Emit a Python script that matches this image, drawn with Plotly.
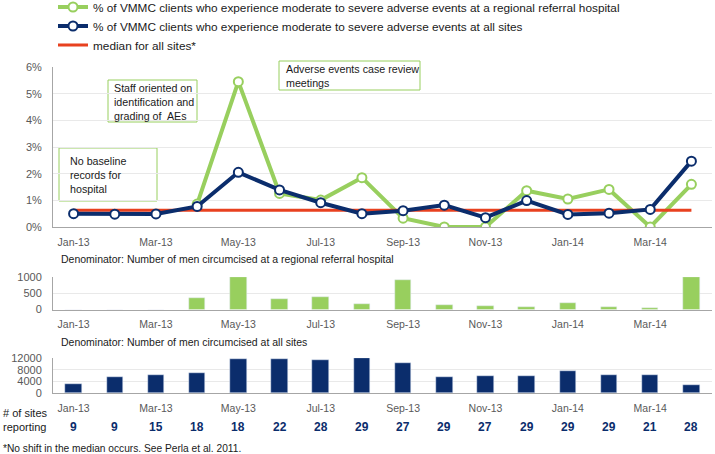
import plotly.graph_objects as go

months = ["Jan-13", "Feb-13", "Mar-13", "Apr-13", "May-13", "Jun-13", "Jul-13", "Aug-13",
          "Sep-13", "Oct-13", "Nov-13", "Dec-13", "Jan-14", "Feb-14", "Mar-14", "Apr-14"]
pct_hospital = [None, None, None, 0.86, 5.45, 1.26, 1.01, 1.85, 0.33, 0.0, 0.0, 1.36, 1.05, 1.41, 0.0, 1.6]
pct_all_sites = [0.50, 0.48, 0.49, 0.77, 2.05, 1.39, 0.91, 0.50, 0.61, 0.82, 0.35, 0.99, 0.47, 0.52, 0.66, 2.47]
median_all = 0.63
denom_hospital = [0, 0, 0, 340, 1000, 320, 380, 165, 915, 145, 110, 80, 185, 80, 50, 1000]
denom_all_sites = [3100, 5330, 6230, 6820, 11560, 11660, 11310, 12110, 10170, 5330, 5670, 5780, 7510, 6020, 6120, 2660]
sites_reporting = [9, 9, 15, 18, 18, 22, 28, 29, 27, 29, 27, 29, 29, 29, 21, 28]
tick_months = months[::2]
pct_ticks = [0, 1, 2, 3, 4, 5, 6]

GREEN = "#98CF5E"
NAVY = "#0B2D6C"
RED = "#E8411F"
GRAY = "#595959"
GRID = "#E9E9E9"
AXIS = "#A6A6A6"
TXT = "#1A1A1A"
FONT = "Liberation Sans, Arial, sans-serif"

W, H = 715, 454
ML, MR = 53, 3
PW = W - ML - MR


def px_x(p):
    return (p - ML) / PW


def px_y(p):
    return 1 - p / H


fig = go.Figure()

fig.add_trace(go.Scatter(
    x=months, y=pct_hospital, mode="lines+markers", xaxis="x", yaxis="y",
    name="% of VMMC clients who experience moderate to severe adverse events at a regional referral hospital",
    line=dict(color=GREEN, width=4), legendrank=1,
    marker=dict(size=9, color="white", line=dict(color=GREEN, width=2)),
    connectgaps=False))
fig.add_trace(go.Scatter(
    x=months, y=[median_all] * len(months), mode="lines", xaxis="x", yaxis="y",
    name="median for all sites*", line=dict(color=RED, width=3), legendrank=3))
fig.add_trace(go.Scatter(
    x=months, y=pct_all_sites, mode="lines+markers", xaxis="x", yaxis="y",
    name="% of VMMC clients who experience moderate to severe adverse events at all sites",
    line=dict(color=NAVY, width=4), legendrank=2,
    marker=dict(size=9, color="white", line=dict(color=NAVY, width=2))))

fig.add_trace(go.Bar(x=months, y=denom_hospital, xaxis="x2", yaxis="y2",
                     marker_color=GREEN, width=0.4, showlegend=False))
fig.add_trace(go.Bar(x=months, y=denom_all_sites, xaxis="x3", yaxis="y3",
                     marker_color=NAVY, width=0.4, showlegend=False))

xcommon = dict(type="category", categoryorder="array", categoryarray=months,
               range=[-0.5, 15.5], tickvals=tick_months, ticktext=tick_months,
               showgrid=False, showline=True, linecolor=AXIS, linewidth=1,
               ticks="", ticklabelstandoff=5, tickfont=dict(size=10.5, color=GRAY),
               zeroline=False)
ycommon = dict(showgrid=True, gridcolor=GRID, gridwidth=1, showline=True,
               linecolor=AXIS, linewidth=1, ticks="", zeroline=False,
               ticklabelstandoff=8, tickfont=dict(size=11, color=GRAY))

fig.update_layout(
    width=W, height=H,
    margin=dict(l=ML, r=MR, t=0, b=0, autoexpand=False),
    paper_bgcolor="white", plot_bgcolor="white",
    font=dict(family=FONT, size=11, color=TXT),
    showlegend=True,
    legend=dict(x=0, y=1 + 7.5 / H, xanchor="left", yanchor="top",
                font=dict(size=11.8, color=TXT), tracegroupgap=0,
                bgcolor="rgba(0,0,0,0)"),
    bargap=0,
    xaxis=dict(**xcommon, anchor="y"),
    xaxis2=dict(**xcommon, anchor="y2"),
    xaxis3=dict(**xcommon, anchor="y3"),
    yaxis=dict(**ycommon, domain=[px_y(227), px_y(67)], range=[0, 6],
               tickvals=pct_ticks, ticktext=["%d%%" % v for v in pct_ticks], anchor="x"),
    yaxis2=dict(**ycommon, domain=[px_y(309.5), px_y(277)], range=[0, 1000],
                tickvals=[0, 500, 1000], anchor="x2"),
    yaxis3=dict(**ycommon, domain=[px_y(393), px_y(358)], range=[0, 12000],
                tickvals=[0, 4000, 8000, 12000], tickformat="d", anchor="x3"),
)

# annotation boxes (frame + text)
boxes = [
    ((59, 148, 157, 201), "No baseline<br>records for<br>hospital", (68, 175)),
    ((108, 80, 197, 122), "Staff oriented on<br>identification and<br>grading of  AEs", (112, 101.5)),
    ((279, 61, 420, 90), "Adverse events case review<br>meetings", (284, 76)),
]
for (x0, y0, x1, y1), txt, (tx, ty) in boxes:
    fig.add_shape(type="rect", xref="paper", yref="paper",
                  x0=px_x(x0), x1=px_x(x1), y0=px_y(y1), y1=px_y(y0),
                  line=dict(color=GREEN, width=1), fillcolor="white", layer="between")
    fig.add_annotation(text=txt, xref="paper", yref="paper", x=px_x(tx), y=px_y(ty),
                       xanchor="left", yanchor="middle", align="left", showarrow=False,
                       font=dict(size=10.7, color=TXT))

fig.add_annotation(text="Denominator: Number of men circumcised at a regional referral hospital",
                   xref="paper", yref="paper", x=px_x(59), y=px_y(259), xanchor="left",
                   yanchor="middle", showarrow=False, font=dict(size=10.5, color=TXT))
fig.add_annotation(text="Denominator: Number of men circumcised at all sites",
                   xref="paper", yref="paper", x=px_x(59), y=px_y(342), xanchor="left",
                   yanchor="middle", showarrow=False, font=dict(size=10.5, color=TXT))
fig.add_annotation(text="# of sites<br>reporting", xref="paper", yref="paper",
                   x=px_x(1), y=px_y(420), xanchor="left", yanchor="middle", align="left",
                   showarrow=False, font=dict(size=11, color=TXT))
for m, s in zip(months, sites_reporting):
    fig.add_annotation(text="<b>%d</b>" % s, xref="x3", yref="paper", x=m, y=px_y(427),
                       xanchor="center", yanchor="middle", showarrow=False,
                       font=dict(size=12, color=NAVY))
fig.add_annotation(text="*No shift in the median occurs. See Perla et al. 2011.",
                   xref="paper", yref="paper", x=px_x(1), y=px_y(448), xanchor="left",
                   yanchor="middle", showarrow=False, font=dict(size=10.2, color=TXT))

fig.write_html("out.html", config={"displayModeBar": False},
               post_script="document.body.style.margin='0';document.body.style.padding='0';")
